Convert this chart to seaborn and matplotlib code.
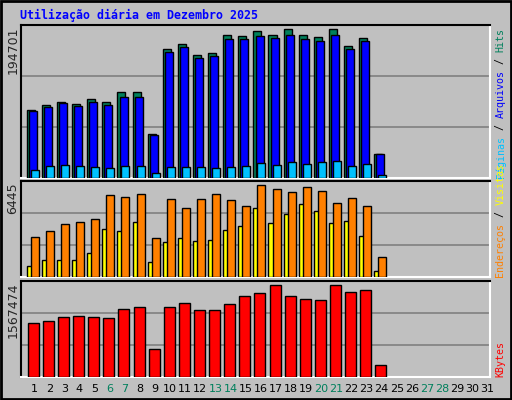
import numpy as np
import matplotlib
matplotlib.use('Agg')
import matplotlib.pyplot as plt
import seaborn as sns

sns.set_style('white')
plt.rcParams['font.family'] = ['DejaVu Sans Mono', 'DejaVu Sans']

# values
days = list(range(1, 32))
weekend_days = [6, 7, 13, 14, 20, 21, 27, 28]
hits = [89400, 96000, 99900, 97300, 103900, 99900, 111800, 111800, 57900, 168400,
        174900, 160400, 163100, 186700, 185400, 192000, 186700, 194701, 186700,
        184100, 194701, 172300, 182800, 31600]
files = [88100, 93400, 98600, 94700, 99900, 96000, 106500, 106500, 56500, 164400,
         170900, 156500, 159100, 181500, 181500, 185400, 182800, 186700, 181500,
         178800, 186700, 168300, 178800, 31600]
pages = [10500, 15800, 17100, 15800, 14500, 13200, 15800, 15800, 6600, 14500,
         14500, 14500, 13200, 14500, 15800, 19700, 17100, 21000, 18400, 21000,
         22400, 15800, 18400, 3900]
sites = [2800, 3220, 3720, 3850, 4060, 5750, 5600, 5810, 2730, 5460, 4830, 5460,
         5810, 5390, 4970, 6445, 6160, 5950, 6300, 6020, 5180, 5530, 4970, 1400]
visits = [770, 1190, 1190, 1190, 1680, 3360, 3220, 3850, 1050, 2450, 2730, 2520,
          2590, 3290, 3570, 4830, 3780, 4410, 5110, 4620, 3780, 3920, 2870, 420]
kbytes = [915400, 949700, 1018300, 1035400, 1018300, 1001100, 1155600, 1189900,
          469100, 1189900, 1258500, 1138400, 1138400, 1241400, 1378700, 1430200,
          1567474, 1378700, 1327200, 1310100, 1567474, 1447300, 1481600, 211700]

BG = '#C0C0C0'
fig = plt.figure(figsize=(5.12, 4.0), dpi=100, facecolor=BG)
W, H = 512, 400

def panel(y0, y1):
    ax = fig.add_axes([21 / W, 1 - y1 / H, 469 / W, (y1 - y0) / H])
    ax.set_facecolor(BG)
    ax.set_xlim(-0.12, 30.92)
    ax.set_xticks([])
    ax.set_yticks([])
    for s in ('top', 'left'):
        ax.spines[s].set_color('black')
    for s in ('bottom', 'right'):
        ax.spines[s].set_color('white')
    for sp in ax.spines.values():
        sp.set_linewidth(1.5)
    return ax

x = np.arange(len(hits))
kw = dict(edgecolor='black', linewidth=1, align='edge', zorder=3)

def grid(ax, top):
    for f in (1 / 3, 2 / 3):
        ax.axhline(top * f, color='#808080', lw=1.2, zorder=1)

# top panel
ax1 = panel(25, 178)
top1 = 194701 * 152 / 148
ax1.set_ylim(0, top1)
grid(ax1, top1)
ax1.bar(x + 0.26, hits, 0.53, color='#00805C', **kw)
ax1.bar(x + 0.40, files, 0.53, color='#0000FF', **kw)
ax1.bar(x + 0.53, pages, 0.53, color='#00C0FF', **kw)

# middle panel
ax2 = panel(181, 277)
top2 = 6445 * 287 / 276
ax2.set_ylim(0, top2)
grid(ax2, top2)
ax2.bar(x + 0.26, visits, 0.34, color='#FFFF00', **kw)
ax2.bar(x + 0.53, sites, 0.53, color='#FF8000', **kw)

# bottom panel
ax3 = panel(281, 377)
top3 = 1567474 * 285 / 274
ax3.set_ylim(0, top3)
grid(ax3, top3)
ax3.bar(x + 0.33, kbytes, 0.73, color='#FF0000', **kw)

# max labels on left
for y0, v in ((25, 194701), (181, 6445), (281, 1567474)):
    fig.text(13 / W, 1 - (y0 + 1) / H, str(v), rotation=90,
             ha='center', va='top', fontsize=9, family='DejaVu Sans')

# day labels
for d in days:
    col = '#00805C' if d in weekend_days else 'black'
    ax3.text(d - 1 + 0.75, -0.13, str(d), transform=ax3.get_xaxis_transform(),
             ha='center', va='center', fontsize=8, color=col, family='DejaVu Sans')

# right side vertical legends
def vlegend(ax, parts):
    tr = ax.transAxes
    y = 0.0
    for txt, col in parts:
        t = ax.text(1.022, y, txt, transform=tr, rotation=90, ha='center',
                    va='bottom', fontsize=7.2, color=col)
        fig.canvas.draw()
        bb = t.get_window_extent().transformed(ax.transAxes.inverted())
        y = bb.y1

vlegend(ax1, [('Páginas', '#00C0FF'), (' / ', 'black'), ('Arquivos', '#0000FF'),
              (' / ', 'black'), ('Hits', '#00805C')])
vlegend(ax2, [('Endereços', '#FF8000'), (' / ', 'black'), ('Visitas', '#FFFF00')])
vlegend(ax3, [('KBytes', '#FF0000')])

fig.text(20 / W, 1 - 15 / H, 'Utilização diária em Dezembro 2025', color='#0000FF',
         fontsize=8.4, fontweight='bold', va='center', ha='left')

# outer border
fig.add_artist(plt.Rectangle((0.002, 0.002), 0.996, 0.996, transform=fig.transFigure,
                             fill=False, edgecolor='black', lw=2))

fig.savefig('out.png', dpi=100, facecolor=BG)
